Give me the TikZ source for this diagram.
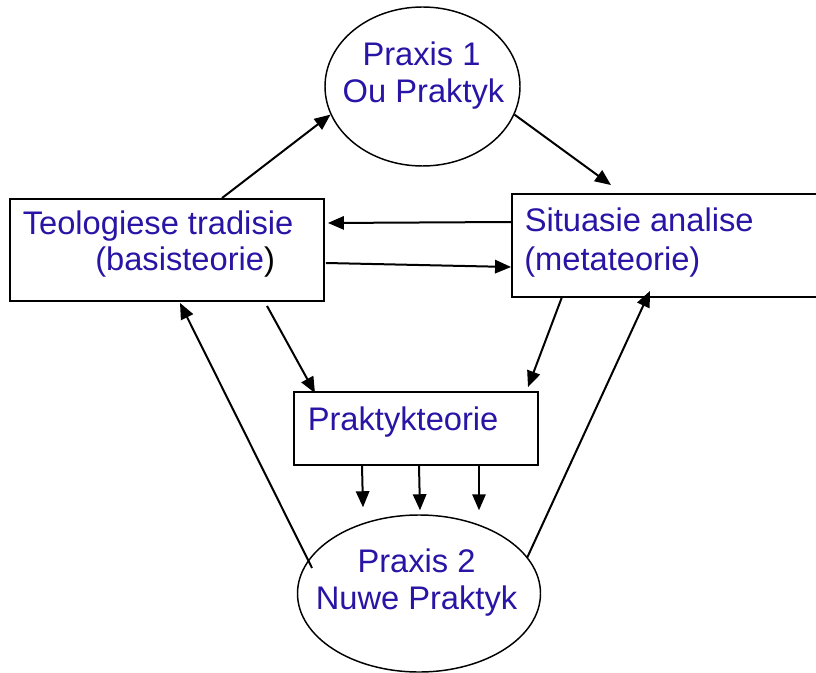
\documentclass[tikz,border=0pt]{standalone}
\usepackage{fontspec}
\setmainfont{Liberation Sans}
\usetikzlibrary{shapes.geometric,arrows.meta,calc}
\definecolor{txtblue}{RGB}{40,20,165}
\tikzset{
  oval/.style={draw, ellipse, line width=1.1pt, inner sep=0pt},
  kas/.style={draw, rectangle, line width=1.4pt, inner sep=0pt},
  woord/.style={inner sep=0pt, text=txtblue, font=\fontsize{24.5}{29}\selectfont},
  pyl/.style={line width=1.5pt, -{Triangle[length=12pt,width=10pt]}}
}
\begin{document}
\begin{tikzpicture}[x=0.75pt, y=-0.75pt]
\useasboundingbox (0,0) rectangle (816,673);

% vorms
\node[oval, minimum width=146.25pt, minimum height=119.25pt] (p1) at (422.5,86.5) {};
\node[oval, minimum width=182.25pt, minimum height=117.75pt] (p2) at (419,593.5) {};
\node[kas, minimum width=235.5pt, minimum height=76.5pt] (trad) at (167,250) {};
\node[kas, minimum width=238.5pt, minimum height=77.25pt] (sit) at (671,245.5) {};
\node[kas, minimum width=183pt, minimum height=54.75pt] (prak) at (416,428.5) {};

% tekste
\node[woord, anchor=base] (p1a) at (421.5,66) {Praxis 1};
\node[woord, anchor=base] (p1b) at (423.5,103) {Ou Praktyk};
\node[woord, anchor=base] (p2a) at (416.5,572) {Praxis 2};
\node[woord, anchor=base] (p2b) at (416.5,609) {Nuwe Praktyk};
\node[woord, anchor=base west] (trada) at (22.5,235) {Teologiese tradisie};
\node[woord, anchor=base west] (tradb) at (95,271) {(basisteorie\textcolor{black}{)}};
\node[woord, anchor=base west] (sita) at (524.5,232) {Situasie analise};
\node[woord, anchor=base west] (sitb) at (524,271) {(metateorie)};
\node[woord, anchor=base west] (praka) at (307.5,430) {Praktykteorie};

% pyle
\draw[pyl] ($(trad.north)+(55,0)$) -- (p1.197);
\draw[pyl] (p1.-17) -- ($(sit.north)+(-60,-8)$);
\draw[pyl] ($(sit.west)+(0,-23.5)$) -- ($(trad.east)+(3,-27)$);
\draw[pyl] ($(trad.east)+(1,13)$) -- ($(sit.west)+(0,21.5)$);
\draw[pyl] ($(trad.south)+(100,4)$) -- ($(prak.north)+(-101,2)$);
\draw[pyl] ($(sit.south)+(-109,-1)$) -- ($(prak.north)+(112,-4)$);
\draw[pyl] ($(prak.south)+(-54,0)$) -- ($(p2.north)+(-56,-7)$);
\draw[pyl] ($(prak.south)+(3,0)$) -- ($(p2.north)+(1,-4)$);
\draw[pyl] ($(prak.south)+(63,0)$) -- ($(p2.north)+(60,-4)$);
\draw[pyl] ($(p2.center)+(-107,-25.5)$) -- ($(trad.south)+(13,1)$);
\draw[pyl] ($(p2.center)+(108,-35.5)$) -- ($(sit.south)+(-21,-7)$);
\end{tikzpicture}
\end{document}
